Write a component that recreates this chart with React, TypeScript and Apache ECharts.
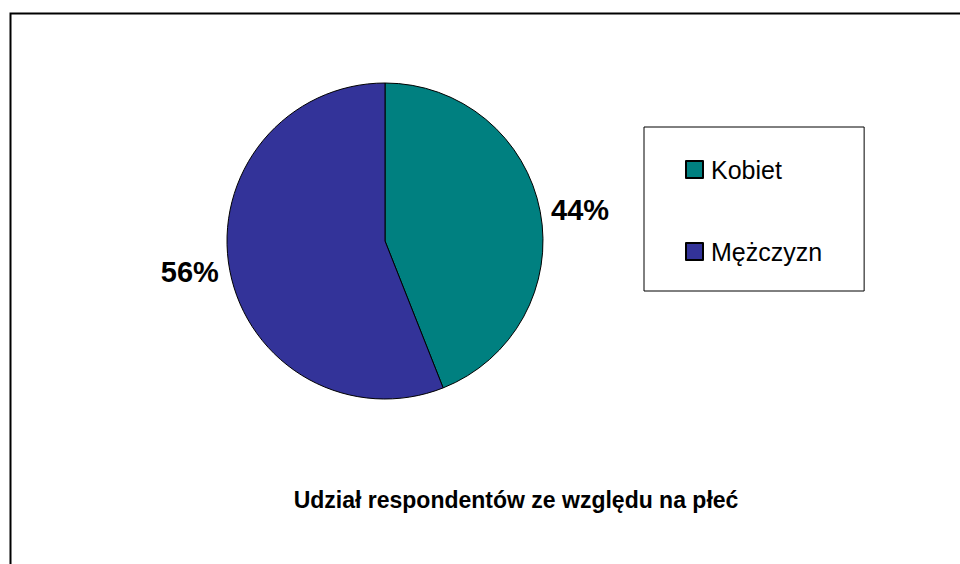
import React, { useEffect, useRef } from "react";
import * as echarts from "echarts";

const categories = ["Kobiet", "Mężczyzn"];
const values = [44, 56];
const colors = ["#008080", "#333399"];
const title = "Udział respondentów ze względu na płeć";

const FONT = "'Liberation Sans', Arial, sans-serif";

export default function App() {
  const ref = useRef<HTMLDivElement>(null);
  useEffect(() => {
    if (!ref.current) return;
    const chart = echarts.init(ref.current, undefined, { renderer: "svg" });
    const labelPads = [
      [0, 0, 11, 0],
      [12, 0, 0, 0],
    ];
    chart.setOption({
      animation: false,
      backgroundColor: "#ffffff",
      textStyle: { fontFamily: FONT },
      legend: {
        orient: "vertical",
        left: 644,
        top: 127,
        borderColor: "#000000",
        borderWidth: 1,
        padding: [30, 42, 27, 41],
        itemWidth: 17,
        itemHeight: 17,
        itemGap: 57,
        icon: "rect",
        textStyle: { fontSize: 25, color: "#000000", fontFamily: FONT, padding: [0, 0, 0, 3] },
        data: categories,
      },
      graphic: [
        {
          type: "rect",
          shape: { x: 10.5, y: 13.5, width: 2000, height: 1000 },
          style: { fill: "none", stroke: "#000000", lineWidth: 2 },
          silent: true,
        },
        {
          type: "text",
          x: 516,
          y: 500,
          style: {
            text: title,
            fontSize: 23,
            fontWeight: "bold",
            fontFamily: FONT,
            fill: "#000000",
            textAlign: "center",
            textVerticalAlign: "middle",
          },
        },
      ],
      series: [
        {
          type: "pie",
          center: [385, 241],
          radius: 158,
          startAngle: 90,
          clockwise: true,
          avoidLabelOverlap: false,
          itemStyle: { borderColor: "#000000", borderWidth: 1 },
          emphasis: { disabled: true },
          label: {
            show: true,
            position: "outside",
            formatter: "{d}%",
            fontSize: 29,
            fontWeight: "bold",
            color: "#000000",
            fontFamily: FONT,
          },
          labelLine: { show: false, length: 6, length2: 0 },
          data: categories.map((name, i) => ({
            name,
            value: values[i],
            itemStyle: { color: colors[i] },
            label: { padding: labelPads[i] },
          })),
        },
      ],
    });
    return () => chart.dispose();
  }, []);
  return (
    <div
      ref={ref}
      style={{ position: "fixed", left: 0, top: 0, width: 960, height: 564 }}
    />
  );
}
